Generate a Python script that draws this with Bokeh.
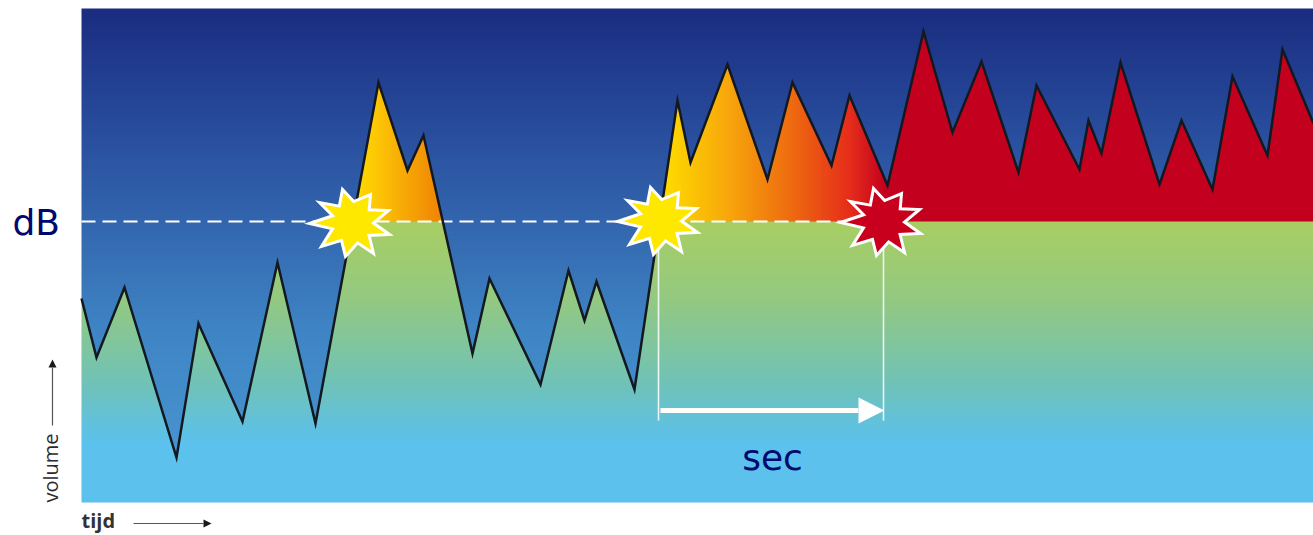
import numpy as np
from bokeh.plotting import figure
from bokeh.models import Range1d, Arrow, NormalHead
from bokeh.core.properties import value
from bokeh.embed import file_html
from bokeh.resources import INLINE

# Values (time position, volume height)
time_pts = [81, 96, 124, 176, 198, 242, 277, 315, 378, 407, 423, 472, 489, 540, 568, 584, 596, 634,
            677, 690, 727, 767, 792, 831, 849, 887, 923, 952, 981, 1018, 1036, 1079, 1088, 1101,
            1120, 1159, 1181, 1212, 1232, 1267, 1282, 1313]
volume_pts = [237, 178, 248, 78, 212, 114, 273, 112, 453, 365, 400, 182, 257, 151, 265, 215, 254, 146,
              435, 373, 471, 356, 453, 370, 440, 350, 504, 403, 474, 363, 450, 366, 415, 382,
              473, 351, 415, 346, 459, 380, 486, 412]
threshold = 314
start_b, end_b = 658, 883
star_x = [352, 660, 883]
star_y = [313, 315, 314]
star_col = ["#ffe800", "#ffe800", "#c8001e"]
star_tip_dx = [-43, -33, -10, 18, 36, 37, 21, -7, -31]
star_tip_dy = [-1, 20, 33, 28, 12, -12, -31, -34, -24]

# colour stops (top-down heights)
bg_h = [527, 420, 314, 205, 90]
bg_c = [(0x1a, 0x2d, 0x80), (0x27, 0x49, 0x9a), (0x33, 0x66, 0xae), (0x3f, 0x85, 0xc5), (0x47, 0x93, 0xcf)]
gr_h = [314, 235, 155, 95]
gr_c = [(0xa9, 0xcf, 0x63), (0x93, 0xc9, 0x82), (0x72, 0xc3, 0xb6), (0x5c, 0xc1, 0xec)]
heat_x = [355, 375, 440, 441, 654, 664, 727, 792, 849, 886]
heat_c = [(0xff, 0xdc, 0x00), (0xfd, 0xc8, 0x05), (0xf0, 0x85, 0x05), (0xff, 0xdc, 0x00), (0xff, 0xdc, 0x00),
          (0xff, 0xdc, 0x00), (0xf8, 0xa8, 0x0c), (0xee, 0x6a, 0x10), (0xe6, 0x2e, 0x1b), (0xc4, 0x00, 0x1f)]


def ramp(q, stops, cols):
    order = np.argsort(stops)
    s = np.array(stops, float)[order]
    c = np.array(cols, float)[order]
    return np.stack([np.interp(q, s, c[:, i]) for i in range(3)], axis=-1)


W, H = 1232, 494
X0, Y0 = 81, 33
xs = X0 + np.arange(W) + 0.5
ys = Y0 + np.arange(H) + 0.5
curve = np.interp(xs, time_pts, volume_pts)
xx, yy = np.meshgrid(xs, ys)
cc = np.broadcast_to(curve, xx.shape)
rgb = np.broadcast_to(ramp(ys, bg_h, bg_c)[:, None, :], (H, W, 3)).copy()
green = np.broadcast_to(ramp(ys, gr_h, gr_c)[:, None, :], (H, W, 3))
heat = np.broadcast_to(ramp(xs, heat_x, heat_c)[None, :, :], (H, W, 3))
under = yy < cc
m = under & (yy <= threshold)
rgb[m] = green[m]
m = under & (yy > threshold)
rgb[m] = heat[m]
img = np.zeros((H, W), dtype=np.uint32)
view = img.view(dtype=np.uint8).reshape((H, W, 4))
view[..., :3] = rgb.astype(np.uint8)
view[..., 3] = 255

p = figure(width=1313, height=535, output_backend="svg", toolbar_location=None,
           x_range=Range1d(0, 1313), y_range=Range1d(0, 535), min_border=0,
           x_axis_location=None, y_axis_location=None, outline_line_color=None)
p.grid.visible = False
p.background_fill_color = "white"
p.border_fill_color = "white"

p.image_rgba(image=[img], x=X0, y=Y0, dw=W, dh=H)
p.line([X0, 895], [threshold, threshold], line_color="white", line_width=2, line_dash="14 7")
p.line(time_pts, volume_pts, line_color="#14181f", line_width=2.5, line_join="miter")

for x in [start_b, end_b]:
    p.line([x, x], [115, 295], line_color="#eef6f4", line_width=1.6)
p.add_layout(Arrow(end=NormalHead(size=26, fill_color="white", line_color="white", line_width=0),
                   x_start=660, y_start=125, x_end=884, y_end=125, line_color="white", line_width=5))

tip_a = np.arctan2(star_tip_dy, star_tip_dx)
tip_r = np.hypot(star_tip_dx, star_tip_dy)
for cx, cy, col in zip(star_x, star_y, star_col):
    px, py = [], []
    n = len(tip_a)
    for i in range(n):
        px.append(cx + tip_r[i] * np.cos(tip_a[i]))
        py.append(cy + tip_r[i] * np.sin(tip_a[i]))
        a = tip_a[i] - np.pi / n
        px.append(cx + 21 * np.cos(a))
        py.append(cy + 21 * np.sin(a))
    p.patch(px, py, fill_color=col, line_color="white", line_width=3, line_join="miter")

navy = "#000a6e"
p.text([12], [313], text=["dB"], text_font=value("DejaVu Sans"), text_font_size="36px",
       text_color=navy, text_baseline="middle", text_align="left")
p.text([772], [78], text=["sec"], text_font=value("DejaVu Sans"), text_font_size="36px",
       text_color=navy, text_baseline="middle", text_align="center")
p.text([52], [33], text=["volume"], angle=np.pi / 2, text_font=value("Open Sans"), text_font_size="20px",
       text_color="#2b2b2b", text_baseline="middle", text_align="left", x_offset=-2)
p.text([81], [15], text=["tijd"], text_font=value("Open Sans"), text_font_size="20px", text_font_style="bold",
       text_color="#333333", text_baseline="alphabetic", text_align="left")
p.add_layout(Arrow(end=NormalHead(size=8, fill_color="#1a1a1a", line_color="#1a1a1a", line_width=0),
                   x_start=52, y_start=110, x_end=52, y_end=176, line_color="#555555", line_width=1.2))
p.add_layout(Arrow(end=NormalHead(size=8, fill_color="#1a1a1a", line_color="#1a1a1a", line_width=0),
                   x_start=133, y_start=12, x_end=211, y_end=12, line_color="#555555", line_width=1.2))

open("out.html", "w").write(file_html(p, INLINE))
